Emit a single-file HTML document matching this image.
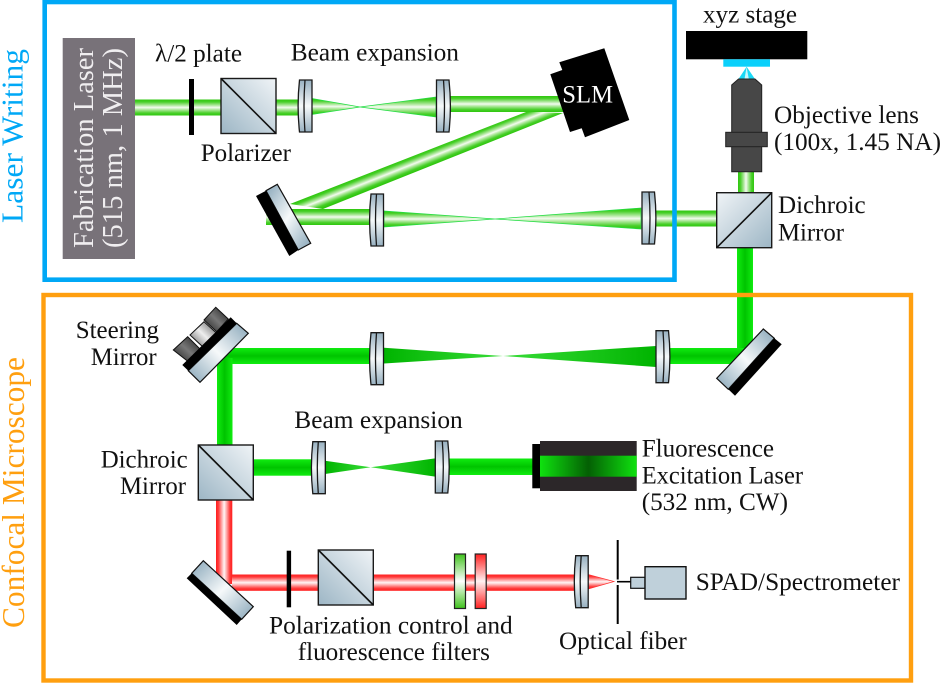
<!DOCTYPE html>
<html><head><meta charset="utf-8"><style>html,body{margin:0;padding:0;background:#fff}svg{display:block}text{font-family:"Liberation Serif",serif;font-size:25.3px;fill:#111}</style></head><body>
<svg width="941" height="683" viewBox="0 0 941 683" xmlns="http://www.w3.org/2000/svg">
<defs>
<linearGradient id="bf" x1="0" y1="0" x2="0" y2="1"><stop offset="0" stop-color="#2fc60f"/><stop offset=".15" stop-color="#47cf28"/><stop offset=".35" stop-color="#a8e695"/><stop offset=".5" stop-color="#f4fbf0"/><stop offset=".65" stop-color="#a8e695"/><stop offset=".85" stop-color="#47cf28"/><stop offset="1" stop-color="#2fc60f"/></linearGradient>
<linearGradient id="bfv" x1="0" y1="0" x2="1" y2="0"><stop offset="0" stop-color="#2fc60f"/><stop offset=".15" stop-color="#47cf28"/><stop offset=".35" stop-color="#a8e695"/><stop offset=".5" stop-color="#f4fbf0"/><stop offset=".65" stop-color="#a8e695"/><stop offset=".85" stop-color="#47cf28"/><stop offset="1" stop-color="#2fc60f"/></linearGradient>
<linearGradient id="bd" gradientUnits="userSpaceOnUse" x1="357.2" y1="177.9" x2="362.8" y2="192.1"><stop offset="0" stop-color="#2fc60f"/><stop offset=".15" stop-color="#47cf28"/><stop offset=".35" stop-color="#a8e695"/><stop offset=".5" stop-color="#f4fbf0"/><stop offset=".65" stop-color="#a8e695"/><stop offset=".85" stop-color="#47cf28"/><stop offset="1" stop-color="#2fc60f"/></linearGradient>
<linearGradient id="cg" x1="0" y1="0" x2="0" y2="1"><stop offset="0" stop-color="#10ec10"/><stop offset=".5" stop-color="#00c400"/><stop offset="1" stop-color="#10ec10"/></linearGradient>
<linearGradient id="cgv" x1="0" y1="0" x2="1" y2="0"><stop offset="0" stop-color="#10ec10"/><stop offset=".5" stop-color="#00c400"/><stop offset="1" stop-color="#10ec10"/></linearGradient>
<linearGradient id="coneR" x1="0" y1="0" x2="1" y2="0"><stop offset="0" stop-color="#00b400"/><stop offset="1" stop-color="#38dc38"/></linearGradient>
<linearGradient id="coneL" x1="1" y1="0" x2="0" y2="0"><stop offset="0" stop-color="#00b400"/><stop offset="1" stop-color="#38dc38"/></linearGradient>
<linearGradient id="rd" x1="0" y1="0" x2="0" y2="1"><stop offset="0" stop-color="#ff1f1f"/><stop offset=".15" stop-color="#ff3a3a"/><stop offset=".35" stop-color="#ffa8a8"/><stop offset=".5" stop-color="#fff4f4"/><stop offset=".65" stop-color="#ffa8a8"/><stop offset=".85" stop-color="#ff3a3a"/><stop offset="1" stop-color="#ff1f1f"/></linearGradient>
<linearGradient id="rdv" x1="0" y1="0" x2="1" y2="0"><stop offset="0" stop-color="#ff1f1f"/><stop offset=".15" stop-color="#ff3a3a"/><stop offset=".35" stop-color="#ffa8a8"/><stop offset=".5" stop-color="#fff4f4"/><stop offset=".65" stop-color="#ffa8a8"/><stop offset=".85" stop-color="#ff3a3a"/><stop offset="1" stop-color="#ff1f1f"/></linearGradient>
<linearGradient id="lens" x1="0" y1="0" x2="0" y2="1"><stop offset="0" stop-color="#97b0c0"/><stop offset=".5" stop-color="#f6f9fa"/><stop offset="1" stop-color="#97b0c0"/></linearGradient>
<linearGradient id="cubeA" x1="0" y1="1" x2="1" y2="0"><stop offset="0" stop-color="#9db6c5"/><stop offset="1" stop-color="#f0f4f7"/></linearGradient>
<linearGradient id="cubeB" x1="0" y1="0" x2="1" y2="1"><stop offset="0" stop-color="#f0f4f7"/><stop offset="1" stop-color="#9db6c5"/></linearGradient>
<linearGradient id="mA" x1="0" y1="0" x2="1" y2="1"><stop offset=".1" stop-color="#9db6c5"/><stop offset=".5" stop-color="#f6f9fa"/><stop offset=".9" stop-color="#9db6c5"/></linearGradient>
<linearGradient id="mB" x1="0" y1="1" x2="1" y2="0"><stop offset=".1" stop-color="#9db6c5"/><stop offset=".5" stop-color="#f6f9fa"/><stop offset=".9" stop-color="#9db6c5"/></linearGradient>
<linearGradient id="laser" x1="0" y1="0" x2="1" y2="0"><stop offset="0" stop-color="#0fe20f"/><stop offset=".5" stop-color="#045f04"/><stop offset="1" stop-color="#0fe20f"/></linearGradient>
<linearGradient id="fg" x1="0" y1="0" x2="0" y2="1"><stop offset="0" stop-color="#3fc21c"/><stop offset=".5" stop-color="#ffffff"/><stop offset="1" stop-color="#3fc21c"/></linearGradient>
<linearGradient id="fr" x1="0" y1="0" x2="0" y2="1"><stop offset="0" stop-color="#ff2020"/><stop offset=".5" stop-color="#fff2f2"/><stop offset="1" stop-color="#ff2020"/></linearGradient>
<linearGradient id="knob" x1="0" y1="1" x2="1" y2="0"><stop offset="0" stop-color="#1c1c1c"/><stop offset=".5" stop-color="#777"/><stop offset="1" stop-color="#1c1c1c"/></linearGradient>
<linearGradient id="knobL" x1="0" y1="1" x2="1" y2="0"><stop offset="0" stop-color="#555"/><stop offset=".5" stop-color="#eee"/><stop offset="1" stop-color="#555"/></linearGradient>
<g id="lensL"><path d="M1.5,0H14V52H1.5Q-1.3,26 1.5,0Z" fill="url(#lens)" stroke="#1a1a1a" stroke-width="1.3"/><path d="M7,0Q5,26 7,52" fill="none" stroke="#1a1a1a" stroke-width="1.3"/></g>
<g id="lensR"><path d="M0,0H12.5Q15.3,26 12.5,52H0Z" fill="url(#lens)" stroke="#1a1a1a" stroke-width="1.3"/><path d="M7,0Q9,26 7,52" fill="none" stroke="#1a1a1a" stroke-width="1.3"/></g>
</defs>

<!-- upper beams -->
<rect x="135" y="99.5" width="165" height="16" fill="url(#bf)"/>
<polygon points="312,98.5 360,107 312,114.5" fill="url(#bf)" stroke="#22dd44" stroke-width=".7"/>
<polygon points="360,107 436,97 436,117" fill="url(#bf)" stroke="#22dd44" stroke-width=".7"/>
<rect x="449" y="96" width="118" height="16" fill="url(#bf)"/>
<polygon points="526.7,111.7 290,204 323,209 563,113" fill="url(#bd)"/>
<rect x="266" y="209" width="108" height="16" fill="url(#bf)"/>
<polygon points="384,211 495,219 384,227" fill="url(#bf)" stroke="#22dd44" stroke-width=".7"/>
<polygon points="495,219 641,208 641,229" fill="url(#bf)" stroke="#22dd44" stroke-width=".7"/>
<rect x="654" y="210.5" width="64" height="16" fill="url(#bf)"/>
<rect x="738" y="170" width="16" height="24" fill="url(#bfv)"/>

<!-- confocal beams -->
<rect x="737" y="247" width="16" height="112" fill="url(#cgv)"/>
<rect x="668" y="348" width="77" height="16" fill="url(#cg)"/>
<polygon points="503,356 656,346 656,367" fill="url(#coneL)"/>
<polygon points="384,347.7 503,356 384,363.5" fill="url(#coneR)"/>
<rect x="224" y="348" width="147" height="16" fill="url(#cg)"/>
<rect x="217" y="358" width="15.5" height="89" fill="url(#cgv)"/>
<rect x="252" y="459.3" width="61" height="16.4" fill="url(#cg)"/>
<polygon points="325,460.7 370.7,467.3 325,474" fill="url(#coneR)"/>
<polygon points="370.7,467.3 436,458.3 436,476.7" fill="url(#coneL)"/>
<rect x="448" y="458.5" width="86" height="16.5" fill="url(#cg)"/>

<!-- red beams -->
<rect x="216" y="499" width="16.3" height="85" fill="url(#rdv)"/>
<rect x="232" y="574.5" width="344" height="16.3" fill="url(#rd)"/>
<polygon points="588,574.5 614,581.5 588,589" fill="url(#rd)" stroke="#ff3030" stroke-width=".7"/>

<!-- frames -->
<rect x="44.7" y="2" width="629.8" height="277.7" fill="none" stroke="#00a8f6" stroke-width="4.6"/>
<rect x="43.5" y="295" width="867.5" height="385.5" fill="none" stroke="#ff9f0f" stroke-width="4.4"/>

<!-- fabrication laser -->
<rect x="62.7" y="38" width="72.3" height="221" fill="#787279"/>
<g transform="translate(93,248) rotate(-90)"><text textLength="200" lengthAdjust="spacingAndGlyphs" style="font-size:28.6px;fill:#f0eef0">Fabrication Laser</text></g>
<g transform="translate(122,248) rotate(-90)"><text textLength="200" lengthAdjust="spacingAndGlyphs" style="font-size:28.6px;fill:#f0eef0">(515 nm, 1 MHz)</text></g>

<!-- upper elements -->
<rect x="189" y="79" width="5" height="56" fill="#000"/>
<rect x="221" y="78.5" width="55" height="55" fill="url(#cubeA)" stroke="#1a1a1a" stroke-width="1.4"/><line x1="221" y1="78.5" x2="276" y2="133.5" stroke="#111" stroke-width="1.6"/>
<use href="#lensL" x="298" y="80"/>
<use href="#lensR" x="436.5" y="80"/>
<use href="#lensL" x="369.5" y="194"/>
<use href="#lensR" x="642" y="192"/>
<polygon points="604.3,48.3 629.3,120 585,137.3 581.7,128.3 570,132 550.3,74.3 562.3,70 559.3,62.3" fill="#000"/>
<polygon points="266,190.7 277.3,184.3 310.7,243.3 298.3,250" fill="url(#mA)" stroke="#111" stroke-width="1.2"/>
<polygon points="256,196 266,190.7 298.3,250 289.3,256" fill="#000"/>
<rect x="716.7" y="192.7" width="55" height="55" fill="url(#cubeB)" stroke="#1a1a1a" stroke-width="1.4"/><line x1="716.7" y1="247.7" x2="771.7" y2="192.7" stroke="#111" stroke-width="1.6"/>

<!-- objective & stage -->
<polygon points="746.6,66.7 738.5,79 755,79" fill="#19d8f5"/>
<polygon points="746.6,67 744.5,79 748.8,79" fill="#c8f6fc"/>
<path d="M738.5,79H755L761.7,85V171.7H731.7V85Z" fill="#474747" stroke="#222" stroke-width="1"/>
<rect x="725.7" y="132.3" width="41.6" height="14.4" fill="#474747" stroke="#222" stroke-width="1"/>
<rect x="686" y="31" width="121.3" height="28.3" fill="#000"/>
<rect x="723.3" y="59.3" width="46.7" height="7.4" fill="#0ad0fb"/>

<!-- lower elements -->
<use href="#lensL" x="369.5" y="332.7"/>
<use href="#lensR" x="656" y="330.7"/>
<polygon points="763.3,329 774.3,338.3 728.3,389.3 716.7,378.3" fill="url(#mB)" stroke="#111" stroke-width="1.2"/>
<polygon points="774.3,338.3 781.7,344.3 735,395.7 728.3,389.3" fill="#000"/>

<polygon points="215.7,307.3 228.3,319 216.7,331.7 204,320" fill="url(#knob)" stroke="#111" stroke-width="1"/>
<polygon points="204,321.7 216.7,333.3 203.3,347.3 190,335" fill="url(#knobL)" stroke="#111" stroke-width="1"/>
<polygon points="187.7,336.7 200,349 188.3,361.7 173.3,350" fill="url(#knob)" stroke="#111" stroke-width="1"/>
<polygon points="236.7,323.3 248.3,333.3 200,382.3 188.3,370.7" fill="url(#mB)" stroke="#111" stroke-width="1.2"/>
<polygon points="230.7,317.3 236.7,323.3 188.3,370.7 182.3,365" fill="#000"/>

<rect x="198.3" y="445" width="55" height="55" fill="url(#cubeA)" stroke="#1a1a1a" stroke-width="1.4"/><line x1="198.3" y1="445" x2="253.3" y2="500" stroke="#111" stroke-width="1.6"/>
<use href="#lensL" x="311.3" y="441.7"/>
<use href="#lensR" x="435.3" y="441"/>
<rect x="532.3" y="444" width="8" height="44.3" fill="#000"/>
<rect x="540" y="441" width="96.7" height="50" fill="#2c2729"/>
<rect x="540" y="455.7" width="96.7" height="21" fill="url(#laser)"/>

<polygon points="203.3,560.7 253.3,606.7 241.7,619.3 191.7,573.3" fill="url(#mA)" stroke="#111" stroke-width="1.2"/>
<polygon points="186.7,578.3 191.7,573.3 241.7,619.3 236.7,625" fill="#000"/>
<rect x="286.7" y="550.7" width="4.4" height="56.6" fill="#000"/>
<rect x="318.3" y="550" width="55" height="55" fill="url(#cubeA)" stroke="#1a1a1a" stroke-width="1.4"/><line x1="318.3" y1="550" x2="373.3" y2="605" stroke="#111" stroke-width="1.6"/>
<rect x="454.5" y="554" width="11" height="54.5" fill="url(#fg)" stroke="#222" stroke-width="1.2"/>
<rect x="475.2" y="554" width="11" height="54.5" fill="url(#fr)" stroke="#222" stroke-width="1.2"/>
<use href="#lensL" x="574.2" y="555.7"/>
<line x1="617.7" y1="540" x2="617.7" y2="579.5" stroke="#000" stroke-width="2"/>
<line x1="617.7" y1="585" x2="617.7" y2="624" stroke="#000" stroke-width="2"/>
<line x1="617" y1="581.7" x2="631" y2="581.7" stroke="#000" stroke-width="1.6"/>
<rect x="630.7" y="577.3" width="14.3" height="11" fill="#bfd0da" stroke="#111" stroke-width="1.2"/>
<rect x="645" y="566.7" width="41" height="32.3" fill="#bfd0da" stroke="#111" stroke-width="1.4"/>

<!-- labels -->
<text x="155" y="61.7" textLength="87" lengthAdjust="spacingAndGlyphs" style="font-family:'Liberation Serif','DejaVu Serif',serif">λ/2 plate</text>
<text x="290.7" y="60.7" textLength="168.3" lengthAdjust="spacingAndGlyphs">Beam expansion</text>
<text x="200.7" y="161" textLength="90.3" lengthAdjust="spacingAndGlyphs">Polarizer</text>
<text x="562.3" y="102.3" textLength="50.7" lengthAdjust="spacingAndGlyphs" style="fill:#fff">SLM</text>
<text x="703" y="22.7" textLength="94" lengthAdjust="spacingAndGlyphs">xyz stage</text>
<text x="774" y="123" textLength="145" lengthAdjust="spacingAndGlyphs">Objective lens</text>
<text x="774" y="150" textLength="167" lengthAdjust="spacingAndGlyphs">(100x, 1.45 NA)</text>
<text x="778" y="213" textLength="87.7" lengthAdjust="spacingAndGlyphs">Dichroic</text>
<text x="778" y="240.7" textLength="66" lengthAdjust="spacingAndGlyphs">Mirror</text>
<text x="75.7" y="338" textLength="83.3" lengthAdjust="spacingAndGlyphs">Steering</text>
<text x="90.7" y="365" textLength="66" lengthAdjust="spacingAndGlyphs">Mirror</text>
<text x="100.7" y="467.3" textLength="87" lengthAdjust="spacingAndGlyphs">Dichroic</text>
<text x="120" y="494" textLength="66" lengthAdjust="spacingAndGlyphs">Mirror</text>
<text x="294.3" y="428" textLength="168.4" lengthAdjust="spacingAndGlyphs">Beam expansion</text>
<text x="641.7" y="456.7" textLength="132.3" lengthAdjust="spacingAndGlyphs">Fluorescence</text>
<text x="641.7" y="483.3" textLength="161.3" lengthAdjust="spacingAndGlyphs">Excitation Laser</text>
<text x="641.7" y="510" textLength="146.3" lengthAdjust="spacingAndGlyphs">(532 nm, CW)</text>
<text x="269" y="633.3" textLength="243.7" lengthAdjust="spacingAndGlyphs">Polarization control and</text>
<text x="297.7" y="660" textLength="192.3" lengthAdjust="spacingAndGlyphs">fluorescence filters</text>
<text x="695.7" y="590" textLength="204.3" lengthAdjust="spacingAndGlyphs">SPAD/Spectrometer</text>
<text x="559" y="649" textLength="127.7" lengthAdjust="spacingAndGlyphs">Optical fiber</text>
<g transform="translate(22.7,223) rotate(-90)"><text textLength="174" lengthAdjust="spacingAndGlyphs" style="font-size:31px;fill:#00a8f6">Laser Writing</text></g>
<g transform="translate(24,628) rotate(-90)"><text textLength="271" lengthAdjust="spacingAndGlyphs" style="font-size:31.4px;fill:#ff9f0f">Confocal Microscope</text></g>
</svg>
</body></html>
